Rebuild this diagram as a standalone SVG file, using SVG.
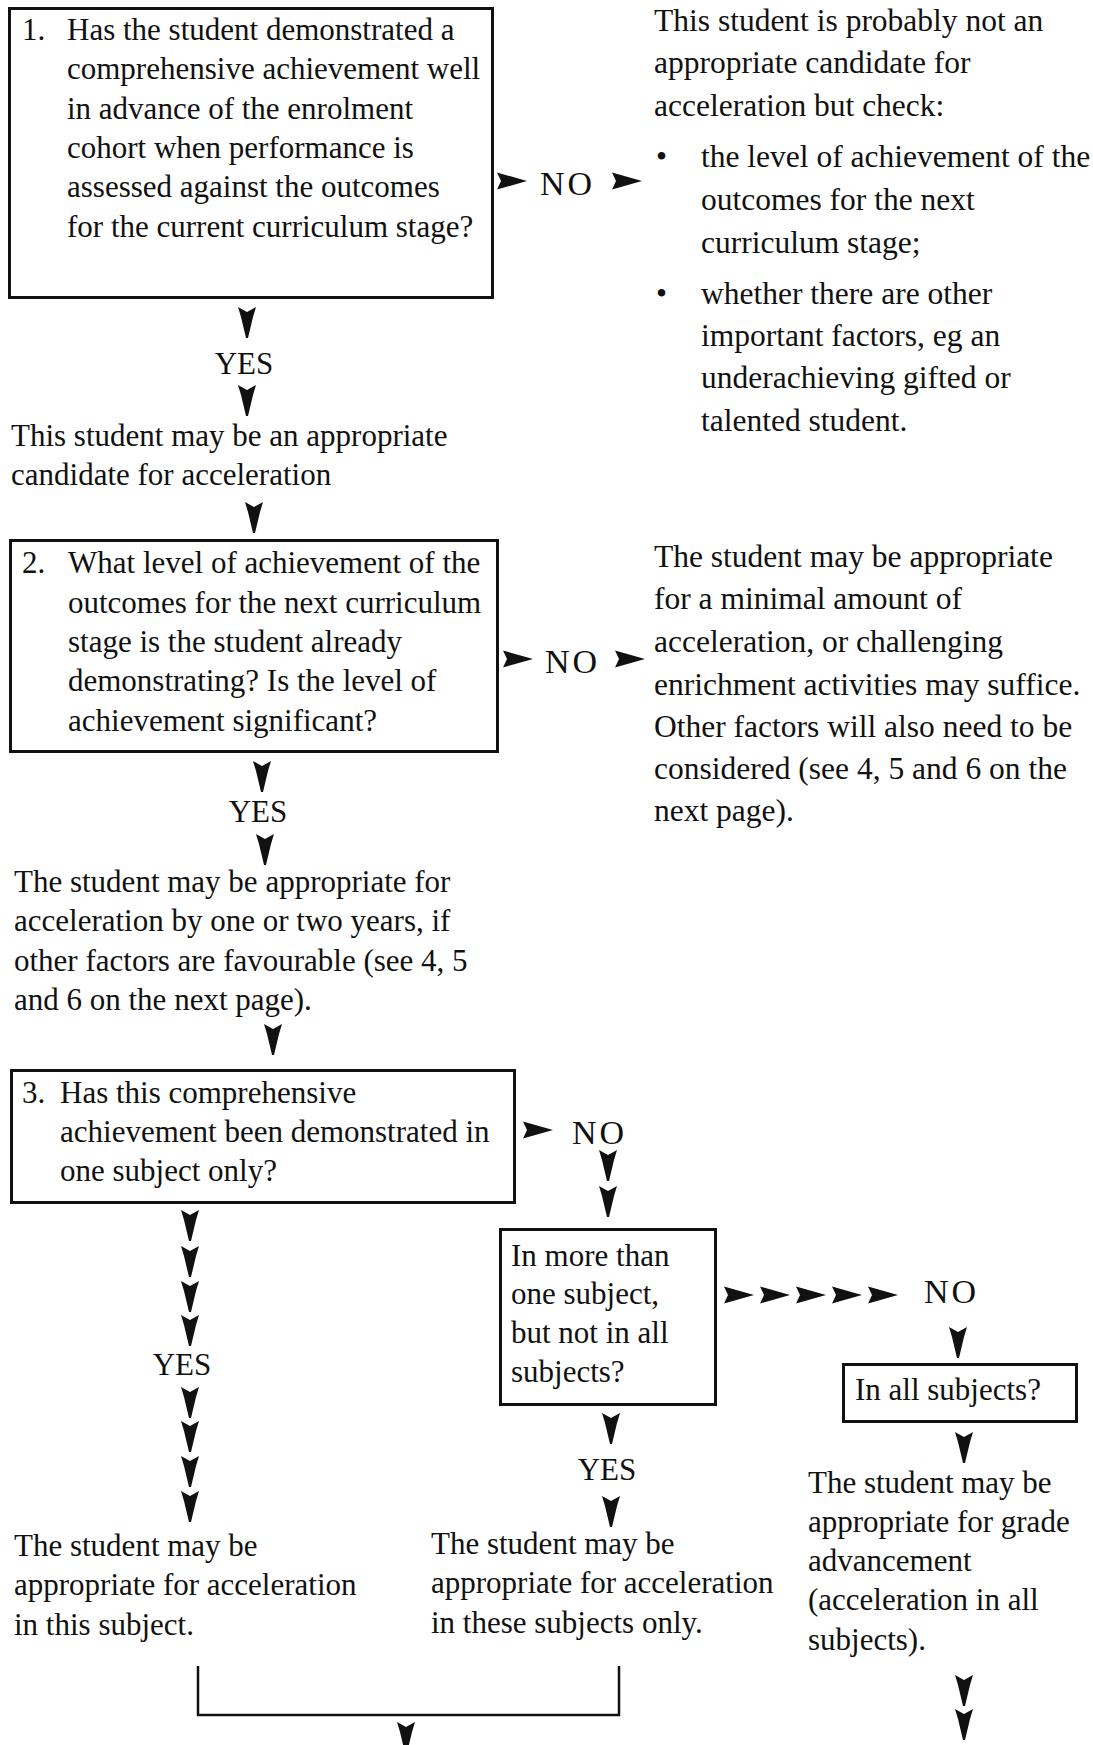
<svg xmlns="http://www.w3.org/2000/svg" xmlns:xlink="http://www.w3.org/1999/xlink" width="1093" height="1745" viewBox="0 0 1093 1745">
<style>
text { font-family: "Liberation Serif", "Times New Roman", serif; font-size: 31px; fill: #111; }
.rc { font-size: 31.5px; }
.box { fill: #fff; stroke: #111; stroke-width: 3; }
.lbl { text-anchor: middle; }
.no { font-size: 34px; letter-spacing: 3px; }
.line { fill: none; stroke: #111; stroke-width: 2.5; }
.ah { fill: #111; }
</style>
<defs>
<path id="dn" class="ah" d="M-9,0 L0,5 L9,0 L6,10 L1,31 L-1,31 L-6,10 Z"/>
<path id="rt" class="ah" d="M0,-8.5 L30,0 L0,8.5 L4,0 Z"/>
</defs>
<rect width="1093" height="1745" fill="#fff"/>

<g id="q1">
<rect class="box" x="9.5" y="8.5" width="483" height="289"/>
<text x="22" y="40">1.</text>
<text x="67" y="40">Has the student demonstrated a</text>
<text x="67" y="79">comprehensive achievement well</text>
<text x="67" y="119">in advance of the enrolment</text>
<text x="67" y="158">cohort when performance is</text>
<text x="67" y="197">assessed against the outcomes</text>
<text x="67" y="237">for the current curriculum stage?</text>
</g>

<g id="r1">
<text class="rc" x="654" y="31">This student is probably not an</text>
<text class="rc" x="654" y="73">appropriate candidate for</text>
<text class="rc" x="654" y="116">acceleration but check:</text>
<text class="rc" x="656" y="167">•</text>
<text class="rc" x="701" y="167">the level of achievement of the</text>
<text class="rc" x="701" y="210">outcomes for the next</text>
<text class="rc" x="701" y="253">curriculum stage;</text>
<text class="rc" x="656" y="304">•</text>
<text class="rc" x="701" y="304">whether there are other</text>
<text class="rc" x="701" y="346">important factors, eg an</text>
<text class="rc" x="701" y="388">underachieving gifted or</text>
<text class="rc" x="701" y="431">talented student.</text>
</g>

<g id="r2">
<text x="11" y="446">This student may be an appropriate</text>
<text x="11" y="485">candidate for acceleration</text>
</g>

<g id="q2">
<rect class="box" x="10.5" y="540.5" width="487" height="211"/>
<text x="22" y="573">2.</text>
<text x="68" y="573">What level of achievement of the</text>
<text x="68" y="613">outcomes for the next curriculum</text>
<text x="68" y="652">stage is the student already</text>
<text x="68" y="691">demonstrating? Is the level of</text>
<text x="68" y="731">achievement significant?</text>
</g>

<g id="r3">
<text class="rc" x="654" y="567">The student may be appropriate</text>
<text class="rc" x="654" y="609">for a minimal amount of</text>
<text class="rc" x="654" y="652">acceleration, or challenging</text>
<text class="rc" x="654" y="695">enrichment activities may suffice.</text>
<text class="rc" x="654" y="737">Other factors will also need to be</text>
<text class="rc" x="654" y="779">considered (see 4, 5 and 6 on the</text>
<text class="rc" x="654" y="821">next page).</text>
</g>

<g id="r4">
<text x="14" y="892" font-size="31.5">The student may be appropriate for</text>
<text x="14" y="931" font-size="31.5">acceleration by one or two years, if</text>
<text x="14" y="971" font-size="31.5">other factors are favourable (see 4, 5</text>
<text x="14" y="1010" font-size="31.5">and 6 on the next page).</text>
</g>

<g id="q3">
<rect class="box" x="11.5" y="1070.5" width="503" height="132"/>
<text x="22" y="1103">3.</text>
<text x="60" y="1103" font-size="31.5">Has this comprehensive</text>
<text x="60" y="1142" font-size="31.5">achievement been demonstrated in</text>
<text x="60" y="1181" font-size="31.5">one subject only?</text>
</g>

<g id="q4">
<rect class="box" x="500.5" y="1229.5" width="215" height="175"/>
<text x="511" y="1266">In more than</text>
<text x="511" y="1304">one subject,</text>
<text x="511" y="1343">but not in all</text>
<text x="511" y="1382">subjects?</text>
</g>

<g id="q5">
<rect class="box" x="843.5" y="1364.5" width="233" height="57"/>
<text x="855" y="1400">In all subjects?</text>
</g>

<g id="r5">
<text x="14" y="1556">The student may be</text>
<text x="14" y="1595">appropriate for acceleration</text>
<text x="14" y="1635">in this subject.</text>
</g>

<g id="r6">
<text x="431" y="1554">The student may be</text>
<text x="431" y="1593">appropriate for acceleration</text>
<text x="431" y="1633">in these subjects only.</text>
</g>

<g id="r7">
<text x="808" y="1493">The student may be</text>
<text x="808" y="1532">appropriate for grade</text>
<text x="808" y="1571">advancement</text>
<text x="808" y="1610">(acceleration in all</text>
<text x="808" y="1650">subjects).</text>
</g>

<g id="connectors">
<!-- q1 NO -->
<use xlink:href="#rt" x="497" y="181"/>
<text class="no" x="540" y="195">NO</text>
<use xlink:href="#rt" x="612" y="181"/>
<!-- q1 YES -->
<use xlink:href="#dn" x="247" y="307"/>
<text class="lbl" x="244" y="374">YES</text>
<use xlink:href="#dn" x="247" y="385"/>
<use xlink:href="#dn" x="254" y="502"/>
<!-- q2 NO -->
<use xlink:href="#rt" x="503" y="659"/>
<text class="no" x="545" y="673">NO</text>
<use xlink:href="#rt" x="615" y="659"/>
<!-- q2 YES -->
<use xlink:href="#dn" x="262" y="761"/>
<text class="lbl" x="258" y="822">YES</text>
<use xlink:href="#dn" x="265" y="834"/>
<use xlink:href="#dn" x="273" y="1024"/>
<!-- q3 NO -->
<use xlink:href="#rt" x="523" y="1130"/>
<text class="no" x="572" y="1144">NO</text>
<use xlink:href="#dn" x="608" y="1150"/>
<use xlink:href="#dn" x="608" y="1186"/>
<!-- q3 YES column -->
<use xlink:href="#dn" x="190" y="1210"/>
<use xlink:href="#dn" x="190" y="1246"/>
<use xlink:href="#dn" x="190" y="1281"/>
<use xlink:href="#dn" x="190" y="1315"/>
<text class="lbl" x="182" y="1375">YES</text>
<use xlink:href="#dn" x="190" y="1387"/>
<use xlink:href="#dn" x="190" y="1421"/>
<use xlink:href="#dn" x="190" y="1456"/>
<use xlink:href="#dn" x="190" y="1491"/>
<!-- q4 NO chain -->
<use xlink:href="#rt" x="724" y="1295"/>
<use xlink:href="#rt" x="760" y="1295"/>
<use xlink:href="#rt" x="796" y="1295"/>
<use xlink:href="#rt" x="832" y="1295"/>
<use xlink:href="#rt" x="868" y="1295"/>
<text class="no" x="924" y="1303">NO</text>
<use xlink:href="#dn" x="958" y="1327"/>
<!-- q4 YES -->
<use xlink:href="#dn" x="611" y="1413"/>
<text class="lbl" x="607" y="1480">YES</text>
<use xlink:href="#dn" x="611" y="1496"/>
<!-- q5 -->
<use xlink:href="#dn" x="964" y="1432"/>
<use xlink:href="#dn" x="964" y="1675"/>
<use xlink:href="#dn" x="964" y="1709"/>
<!-- bracket -->
<path class="line" d="M198,1666 V1715 H619 V1666"/>
<use xlink:href="#dn" x="406" y="1722"/>
</g>
</svg>
